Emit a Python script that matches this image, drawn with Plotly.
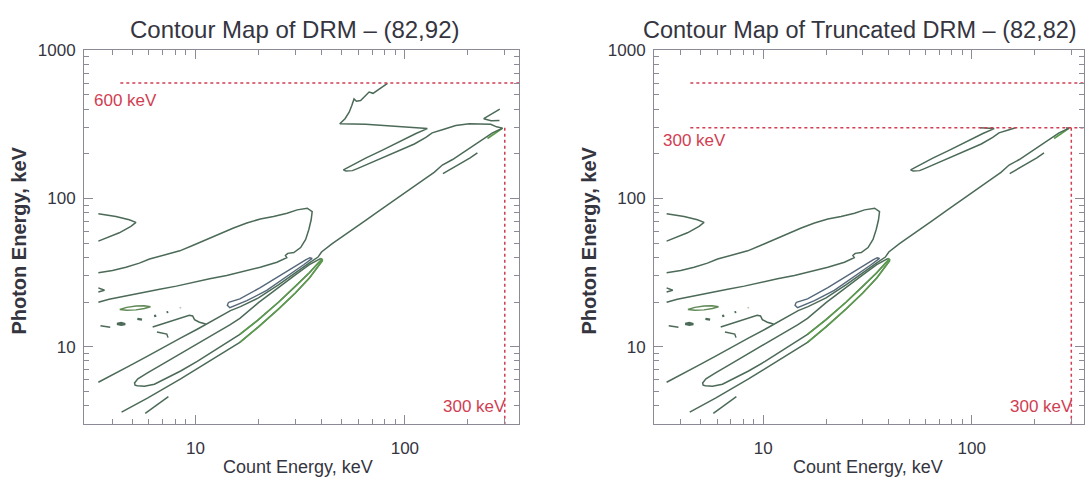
import numpy as np
import plotly.graph_objects as go

# ---------------- data (keV) ----------------
# small V-shaped contour at upper left
v_x = [3.44, 4.17, 4.83, 5.20, 4.92, 4.33, 3.44]
v_y = [78.7, 75.5, 71.8, 68.9, 64.8, 58.6, 51.5]

# big open loop
b_x = [3.44, 4.02, 4.66, 5.40, 6.04, 6.75, 7.54, 8.42, 9.76, 11.3, 13.1, 15.2, 17.6, 20.4,
       23.6, 27.4, 30.6, 34.2, 36.1, 35.7, 34.8, 33.6, 31.8, 29.5, 27.6, 26.9, 27.3, 26.2,
       24.5, 20.4, 16.9, 14.1, 11.7, 9.76, 8.11, 6.75, 5.61, 4.66, 3.87, 3.44]
b_y = [31.5, 32.6, 34.3, 36.6, 39.0, 40.6, 42.1, 44.3, 48.3, 52.9, 58.0, 63.2, 68.3, 72.6,
       75.5, 79.5, 83.7, 85.9, 81.6, 71.8, 61.7, 52.9, 46.6, 43.1, 42.6, 41.2, 39.8, 38.6,
       37.1, 34.3, 32.1, 30.2, 28.7, 27.0, 25.6, 24.4, 23.2, 21.9, 20.9, 19.9]

# tiny wedge at left edge
c_x = [3.44, 3.68, 3.44]
c_y = [24.9, 24.0, 23.4]

# small lens
d_x = [4.35, 4.70, 5.20, 5.70, 6.10, 5.70, 5.20, 4.70, 4.35]
d_y = [17.8, 18.4, 18.8, 18.9, 18.6, 18.1, 17.7, 17.6, 17.8]

# dashes / islands
e1_x, e1_y = [3.52, 3.92], [13.85, 13.5]
e2_x, e2_y = [4.22, 4.42, 4.62, 4.42, 4.22], [14.25, 14.45, 14.2, 14.0, 14.25]
e3_x, e3_y = [5.28, 5.56], [15.4, 15.2]
e4_x, e4_y = [6.35, 6.5], [16.05, 16.2]
e5_x, e5_y = [7.28, 7.42], [17.05, 17.15]
e6_x, e6_y = [8.4, 8.55], [18.2, 18.35]

# bracket-shaped contour
f_x = [6.25, 7.30, 8.45, 9.35, 9.70, 9.90, 10.45, 11.2]
f_y = [13.55, 14.5, 15.6, 16.3, 16.1, 15.2, 14.6, 14.2]
g_x = [6.55, 7.30, 7.40]
g_y = [12.55, 12.15, 11.5]

# narrow loop near diagonal (upper)
i_x = [14.4, 16.3, 20.4, 24.5, 29.5, 33.6, 35.2, 36.1, 33.0, 27.4, 21.9, 17.6, 14.6, 14.2, 14.4]
i_y = [19.9, 21.0, 25.0, 29.4, 34.6, 38.5, 39.8, 39.4, 35.8, 29.9, 24.0, 20.4, 18.3, 19.0, 19.9]

# long narrow loop with rounded left end
j_x = [39.5, 35.0, 30.0, 25.0, 20.0, 16.3, 14.6, 12.2, 10.2, 8.50, 7.10, 5.93, 5.31, 5.12,
       5.15, 5.28, 5.71, 6.37, 7.36, 8.50, 10.2, 12.2, 14.6, 16.3, 20.0, 25.0, 30.0, 35.0,
       38.5, 40.2, 39.5]
j_y = [39.3, 35.8, 30.5, 25.0, 19.8, 15.5, 14.0, 12.1, 10.4, 8.99, 7.75, 6.68, 6.06, 5.69,
       5.50, 5.44, 5.41, 5.57, 6.15, 6.85, 7.95, 9.30, 10.9, 12.1, 15.2, 20.0, 25.5, 31.5,
       36.5, 38.8, 39.3]

# lower long line and short line
k_x = [4.44, 5.93, 8.50, 12.2, 16.3, 20.0, 25.0, 30.0, 35.0, 40.5]
k_y = [3.61, 4.51, 6.06, 8.36, 10.7, 13.6, 18.0, 23.0, 29.0, 38.3]
l_x = [5.76, 7.43]
l_y = [3.55, 4.60]

# upper contour: zigzag from 600 keV, flat part, narrow loop, run to apex
m_x = [82.6, 75.3, 70.5, 67.5, 64.6, 61.5, 58.7, 57.2, 55.8, 54.2, 51.8, 48.9, 65.0, 93.9,
       128, 113, 93.9, 78.2, 65.0, 56.2, 52.3, 50.9, 52.3, 56.2, 59.3, 65.0, 78.2, 93.9,
       111, 126, 135, 151, 175, 203, 235, 257, 274, 288, 293]
m_y = [598, 544, 512, 522, 491, 457, 453, 469, 423, 382, 345, 319, 316, 304,
       296, 274, 240, 212, 187, 169, 159, 156, 153, 154, 159, 168, 187, 210,
       233, 258, 277, 291, 310, 319, 319, 316, 304, 298, 298]

# main diagonal from apex down to the bundle
dg_x = [262, 226, 195, 169, 151, 146, 141, 138, 126, 109, 95.7, 85, 75, 65, 57, 50, 45, 40]
dg_y = [277, 240, 210, 183, 168, 161, 156, 150, 137, 119, 105, 93, 82, 71, 62.5, 55, 49.5, 43.5]

# continuation down to left edge
h_x = [38.5, 35.0, 30.0, 25.0, 20.0, 16.4, 14.7, 12.2, 10.2, 8.48, 7.06, 5.88, 4.89, 4.07, 3.44]
h_y = [40.2, 36.8, 31.5, 26.2, 21.3, 18.6, 17.5, 15.0, 13.1, 11.4, 9.85, 8.59, 7.48, 6.55, 5.75]

# short line below apex and small spindle at apex
s_x = [152, 178, 205, 222]
s_y = [147, 167, 188, 203]
ap_x = [248, 262, 278, 292, 276, 261, 248]
ap_y = [254, 268, 283, 297, 280, 265, 254]

# "<" contour (full DRM only)
w_x = [284, 260, 238, 258, 283]
w_y = [400, 370, 345, 334, 336]

# limit lines and labels
lim600 = 600
lim300 = 300
hline_start_left = 4.38
hline_start_right = 4.47

XR_LEFT = [0.468, 2.545]
XR_RIGHT = [0.476, 2.538]
YR = [np.log10(3.0), 3.0]

MAIN = "#4c6a58"
GREEN = "#5c9c4c"
RED = "#d03e52"
AXC = "#8b8b98"
TXT = "#35353f"


def clip_below(xs, ys, ymax):
    lx, ly = np.log10(xs), np.log10(ys)
    lm = np.log10(ymax)
    ox, oy = [], []
    for i in range(len(xs)):
        inside = ly[i] <= lm + 1e-9
        if i > 0:
            prev_in = ly[i - 1] <= lm + 1e-9
            if inside != prev_in:
                t = (lm - ly[i - 1]) / (ly[i] - ly[i - 1])
                ox.append(10 ** (lx[i - 1] + t * (lx[i] - lx[i - 1])))
                oy.append(ymax)
                if not inside:
                    ox.append(None)
                    oy.append(None)
        if inside:
            ox.append(xs[i])
            oy.append(ys[i])
    return ox, oy


def part_right_of(xs, ys, xmin, start, stop):
    px = [x for x in xs[start:stop] if x >= xmin]
    py = [y for x, y in zip(xs[start:stop], ys[start:stop]) if x >= xmin]
    return px, py


fig = go.Figure()


def add(xs, ys, ax, color=MAIN, width=1.5, dash=None, opacity=1.0):
    xa = "x" if ax == 1 else "x2"
    ya = "y" if ax == 1 else "y2"
    fig.add_trace(go.Scatter(x=xs, y=ys, xaxis=xa, yaxis=ya, mode="lines",
                             line=dict(color=color, width=width, dash=dash),
                             opacity=opacity, hoverinfo="skip", showlegend=False))


shared = [
    (v_x, v_y, MAIN, 1.5), (b_x, b_y, MAIN, 1.5), (c_x, c_y, MAIN, 1.5),
    (d_x, d_y, "#5f8a55", 1.5), (e1_x, e1_y, MAIN, 1.5), (e2_x, e2_y, MAIN, 2.2),
    (e3_x, e3_y, MAIN, 2.2), (e4_x, e4_y, MAIN, 2.2), (e5_x, e5_y, MAIN, 2.0),
    (f_x, f_y, MAIN, 1.5), (g_x, g_y, MAIN, 1.5), (i_x, i_y, "#55687a", 1.4),
    (j_x, j_y, MAIN, 1.5), (k_x, k_y, MAIN, 1.5), (l_x, l_y, MAIN, 1.5),
    (s_x, s_y, MAIN, 1.5), (ap_x, ap_y, GREEN, 1.8),
]

# greener inner strands near the tip of the bundle
jl_x, jl_y = part_right_of(j_x, j_y, 16.0, 16, len(j_x))
kk_x, kk_y = part_right_of(k_x, k_y, 16.0, 0, len(k_x))

full_x = m_x + dg_x + h_x
full_y = m_y + dg_y + h_y

for ax in (1, 2):
    for xs, ys, col, wd in shared:
        add(xs, ys, ax, col, wd)
    add(jl_x, jl_y, ax, GREEN, 1.6)
    add(kk_x, kk_y, ax, GREEN, 1.6)
    add(e6_x, e6_y, ax, "#b9c7b5", 1.6)

# full DRM: complete upper contour and "<"
add(full_x, full_y, 1)
add(w_x, w_y, 1)
# truncated DRM: same contour cut at 300 keV
tx, ty = clip_below(full_x, full_y, lim300)
add(tx, ty, 2)

# red dotted limits
xr_end_l = 10 ** XR_LEFT[1]
xr_end_r = 10 ** XR_RIGHT[1]
add([hline_start_left, xr_end_l], [lim600, lim600], 1, RED, 1.5, "dot")
add([lim300, lim300], [lim300, 10 ** YR[0]], 1, RED, 1.5, "dot")
add([hline_start_right, xr_end_r], [lim600, lim600], 2, RED, 1.5, "dot")
add([hline_start_right, xr_end_r], [lim300, lim300], 2, RED, 1.5, "dot")
add([lim300, lim300], [lim300, 10 ** YR[0]], 2, RED, 1.5, "dot")

FONT = "Liberation Sans, Arial, sans-serif"

minor_x = [4, 5, 6, 7, 8, 9, 20, 30, 40, 50, 60, 70, 80, 90, 200, 300]
minor_y = [4, 5, 6, 7, 8, 9, 20, 30, 40, 50, 60, 70, 80, 90, 200, 300, 400, 500, 600, 700, 800, 900]


def xaxis(domain, rng, anchor):
    return dict(type="log", domain=domain, range=rng, anchor=anchor,
                showgrid=False, zeroline=False, showline=True, linecolor=AXC, linewidth=1,
                mirror="allticks", ticks="inside", ticklen=9, tickwidth=1, tickcolor=AXC,
                tickmode="array", tickvals=[10, 100], ticktext=["10", "100"],
                tickfont=dict(family=FONT, size=17, color=TXT), ticklabelstandoff=8,
                minor=dict(tickmode="array", tickvals=minor_x, ticks="inside", ticklen=5,
                           tickwidth=1, tickcolor=AXC, showgrid=False))


def yaxis(domain, anchor):
    return dict(type="log", domain=domain, range=YR, anchor=anchor,
                showgrid=False, zeroline=False, showline=True, linecolor=AXC, linewidth=1,
                mirror="allticks", ticks="inside", ticklen=9, tickwidth=1, tickcolor=AXC,
                tickmode="array", tickvals=[10, 100, 1000], ticktext=["10", "100", "1000"],
                tickfont=dict(family=FONT, size=17, color=TXT), ticklabelstandoff=4,
                minor=dict(tickmode="array", tickvals=minor_y, ticks="inside", ticklen=5,
                           tickwidth=1, tickcolor=AXC, showgrid=False))


W, H = 1086, 483
ydom = [1 - 423 / H, 1 - 42 / H]
fig.update_layout(
    width=W, height=H, margin=dict(l=0, r=0, t=0, b=0),
    paper_bgcolor="white", plot_bgcolor="white", showlegend=False,
    xaxis=xaxis([84 / W, 519 / W], XR_LEFT, "y"),
    yaxis=yaxis(ydom, "x"),
    xaxis2=xaxis([654 / W, 1084 / W], XR_RIGHT, "y2"),
    yaxis2=yaxis(ydom, "x2"),
)

ann = []


def paper_text(text, px, py, size, angle=0, bold=False):
    ann.append(dict(text=("<b>%s</b>" % text) if bold else text, x=px / W, y=1 - py / H,
                    xref="paper", yref="paper", showarrow=False, textangle=angle,
                    xanchor="center", yanchor="middle",
                    font=dict(family=FONT, size=size, color=TXT)))


paper_text("Contour Map of DRM \u2013 (82,92)", 294, 21, 24)
paper_text("Contour Map of Truncated DRM \u2013 (82,82)", 860, 21, 23.5)
paper_text("Count Energy, keV", 298, 467, 18)
paper_text("Count Energy, keV", 868, 467, 18)
paper_text("Photon Energy, keV", 19, 236, 20, angle=-90, bold=True)
paper_text("Photon Energy, keV", 589, 236, 20, angle=-90, bold=True)


def red_label(text, x, y, axn, anchor):
    ann.append(dict(text=text, x=np.log10(x), y=np.log10(y),
                    xref="x" if axn == 1 else "x2", yref="y" if axn == 1 else "y2",
                    showarrow=False, xanchor=anchor, yanchor="middle",
                    font=dict(family=FONT, size=17, color=RED)))


red_label("600 keV", 3.2, 460, 1, "left")
red_label("300 keV", 310, 3.92, 1, "right")
red_label("300 keV", 3.25, 245, 2, "left")
red_label("300 keV", 312, 3.92, 2, "right")

fig.update_layout(annotations=ann)
fig.write_html("out.html")
